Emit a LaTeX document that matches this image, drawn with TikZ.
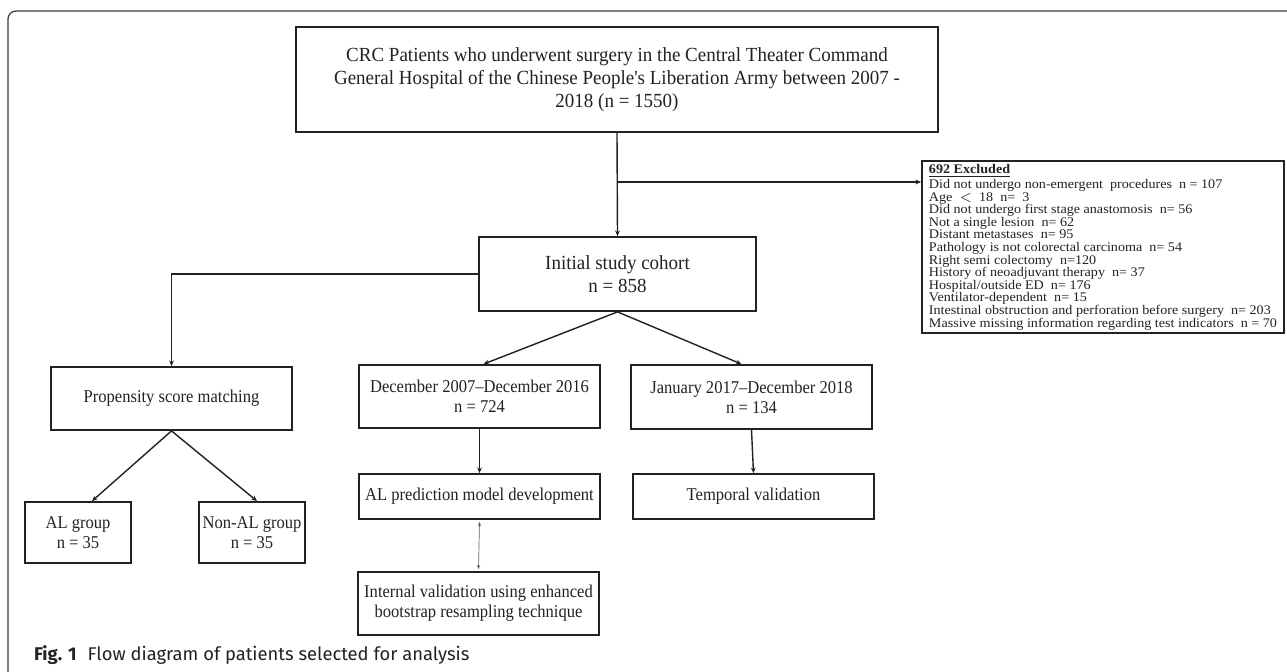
\documentclass[tikz,border=0pt]{standalone}
\usepackage{fontspec}
\setmainfont{Liberation Serif}
\newfontfamily\mainboxfont[FakeStretch=0.95]{Liberation Serif}
\newfontfamily\subboxfont[FakeStretch=0.92]{Liberation Serif}
\newfontfamily\exclfont[FakeStretch=1.07]{Liberation Serif}
\newfontfamily\capfont{Fira Sans}
\usepackage{xcolor}
\usetikzlibrary{arrows.meta,positioning,calc}

\definecolor{inkgray}{HTML}{222222}
\definecolor{framegray}{HTML}{3A3A3A}

\tikzset{
    flowbox/.style={draw=inkgray, line width=0.9pt, align=center, inner sep=0pt,
        font=\subboxfont\fontsize{9}{10}\selectfont, text=inkgray},
    bigbox/.style={flowbox, font=\mainboxfont\fontsize{10}{11.5}\selectfont},
    link/.style={draw=inkgray, line width=0.7pt, -{Stealth[length=2.8pt,width=2.4pt]}},
    thinlink/.style={draw=inkgray!70, line width=0.35pt, {Stealth[length=2pt,width=1.6pt]}-{Stealth[length=2pt,width=1.6pt]}}
}

\begin{document}
\begin{tikzpicture}[x=0.5pt, y=-0.5pt, >=Stealth]
    \useasboundingbox (0,0) rectangle (1287,672);
    \fill[white] (0,0) rectangle (1287,672);
    \draw[framegray, line width=0.6pt, rounded corners=4pt] (8,672) -- (8,11) -- (1287,11);

    \node[bigbox, minimum width=321pt, minimum height=52.5pt] (top) at (617,79.5)
        {CRC Patients who underwent surgery in the Central Theater Command\\
         General Hospital of the Chinese People's Liberation Army between 2007 -\\
         2018 (n = 1550)};
    \node[bigbox, minimum width=138.5pt, minimum height=37pt] (cohort) at (617.5,274)
        {Initial study cohort\\n = 858};
    \node[flowbox, minimum width=181pt, minimum height=84pt, align=left,
        inner xsep=3pt, inner ysep=1.5pt, font=\exclfont\fontsize{6.6}{6.3}\selectfont] (excl) at (1103,247)
        {\textbf{\underline{692 Excluded}}\\
         Did not undergo non-emergent\ \ procedures\ \ n = 107\\
         Age\ \ $<$\ \ 18\ \ n=\ \ 3\\
         Did not undergo first stage anastomosis\ \ n= 56\\
         Not a single lesion\ \ n= 62\\
         Distant metastases\ \ n= 95\\
         Pathology is not colorectal carcinoma\ \ n= 54\\
         Right semi colectomy\ \ n=120\\
         History of neoadjuvant therapy\ \ n= 37\\
         Hospital/outside ED\ \ n= 176\\
         Ventilator-dependent\ \ n= 15\\
         Intestinal obstruction and perforation before surgery\ \ n= 203\\
         Massive missing information regarding test indicators\ \ n = 70};

    \node[flowbox, minimum width=120.5pt, minimum height=31.5pt] (psm) at (171.5,398.5)
        {Propensity score matching};
    \node[flowbox, minimum width=53pt, minimum height=30.5pt] (algrp) at (78,532.5)
        {AL group\\n = 35};
    \node[flowbox, minimum width=53pt, minimum height=30.5pt] (nonal) at (252,532.5)
        {Non-AL group\\n = 35};

    \node[flowbox, minimum width=120.5pt, minimum height=31.5pt] (train) at (479.5,396.5)
        {December 2007–December 2016\\n = 724};
    \node[flowbox, minimum width=120.5pt, minimum height=32pt] (temp) at (751.5,397)
        {January 2017–December 2018\\n = 134};
    \node[flowbox, minimum width=120.5pt, minimum height=22.5pt] (model) at (479.5,496.5)
        {AL prediction model development};
    \node[flowbox, minimum width=120.5pt, minimum height=22.5pt] (tval) at (753.5,496.5)
        {Temporal validation};
    \node[flowbox, minimum width=120.5pt, minimum height=31.5pt] (ival) at (478.5,603.5)
        {Internal validation using enhanced\\bootstrap resampling technique};

    % connectors
    \coordinate (branch) at (617,182);
    \draw[link] (top.south) -- (cohort.north);
    \draw[link] (branch) -- (branch -| excl.west);
    \draw[link] (cohort.west) -| (psm.north);
    \draw[link] (cohort.south) -- ([xshift=2pt]train.north);
    \draw[link] (cohort.south) -- ([xshift=-5pt]temp.north);
    \draw[link] (psm.south) -- ([xshift=7pt]algrp.north);
    \draw[link] (psm.south) -- ([xshift=2.5pt]nonal.north);
    \draw[link] (train.south) -- (model.north);
    \draw[link] (temp.south) -- (tval.north);
    \draw[thinlink] ([yshift=-1pt]model.south) -- ([yshift=1pt]ival.north);

    \node[anchor=west, font=\capfont\fontsize{9.2}{11}\selectfont, text=inkgray] (cap) at (27,655)
        {\textbf{Fig. 1}\hspace{0.6em}Flow diagram of patients selected for analysis};
\end{tikzpicture}
\end{document}
